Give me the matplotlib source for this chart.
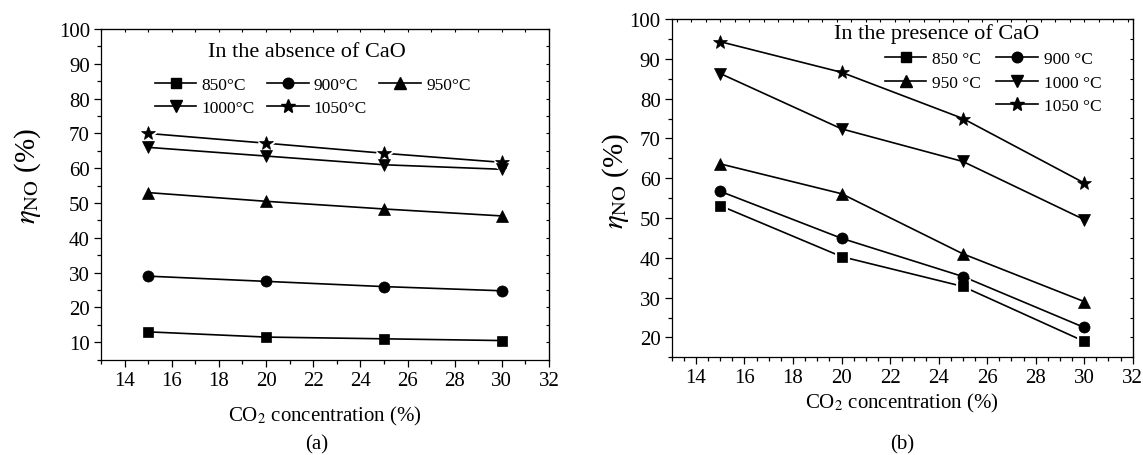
import matplotlib
matplotlib.use("Agg")
import matplotlib.pyplot as plt
from matplotlib.ticker import MultipleLocator
from matplotlib.lines import Line2D

# ---------------- data ----------------
co2 = [15, 20, 25, 30]
temps = ["850", "900", "950", "1000", "1050"]

# (a) in the absence of CaO
absent_850 = [13.0, 11.5, 11.0, 10.5]
absent_900 = [29.0, 27.5, 26.0, 24.8]
absent_950 = [53.0, 50.5, 48.3, 46.3]
absent_1000 = [66.0, 63.5, 61.0, 59.7]
absent_1050 = [70.0, 67.2, 64.3, 61.7]

# (b) in the presence of CaO
present_850 = [53.1, 40.3, 32.8, 19.0]
present_900 = [56.7, 44.9, 35.3, 22.5]
present_950 = [63.6, 56.1, 41.0, 29.0]
present_1000 = [86.3, 72.4, 64.2, 49.6]
present_1050 = [94.3, 86.6, 75.0, 58.8]

x_ticks = [14, 16, 18, 20, 22, 24, 26, 28, 30, 32]

# ---------------- style ----------------
plt.rcParams["font.family"] = ["Liberation Serif", "DejaVu Serif"]
plt.rcParams["mathtext.fontset"] = "stix"

markers = ["s", "o", "^", "v", "*"]
msizes = [7.5, 8, 8.5, 8.5, 10.5]

W, H = 1143, 456
fig = plt.figure(figsize=(W / 100, H / 100), dpi=100)

def px_rect(x0, x1, ytop, ybot):
    return [x0 / W, 1 - ybot / H, (x1 - x0) / W, (ybot - ytop) / H]

axA = fig.add_axes(px_rect(101, 549, 30, 360.7))
axB = fig.add_axes(px_rect(671.7, 1132.7, 20, 358.3))

def style_axes(ax, ylim, yticks, xminor, topminor):
    ax.set_xlim(13, 32)
    ax.set_ylim(*ylim)
    ax.set_xticks(x_ticks)
    ax.set_yticks(yticks)
    ax.xaxis.set_minor_locator(MultipleLocator(xminor))
    ax.yaxis.set_minor_locator(MultipleLocator(5))
    ax.tick_params(axis="both", which="major", direction="out", length=5,
                   width=0.9, labelsize=15, pad=3)
    ax.tick_params(axis="both", which="minor", direction="out", length=3,
                   width=0.9)
    for s in ax.spines.values():
        s.set_linewidth(0.9)
    # top / right inward ticks
    top = ax.secondary_xaxis("top")
    top.xaxis.set_major_locator(MultipleLocator(topminor))
    top.tick_params(direction="in", length=2.5, width=0.8, labeltop=False)
    right = ax.secondary_yaxis("right")
    right.yaxis.set_major_locator(MultipleLocator(5))
    right.tick_params(direction="in", length=2.5, width=0.8, labelright=False)

style_axes(axA, (5, 100), list(range(10, 101, 10)), 1, 1)
style_axes(axB, (15, 100), list(range(20, 101, 10)), 0.5, 0.6)

def draw(ax, series, gap_idx, label_fmt):
    handles = []
    for i, (vals, t) in enumerate(zip(series, temps)):
        ax.plot(co2, vals, color="black", lw=1.2, zorder=2)
        if i in gap_idx:
            ax.plot(co2, vals, linestyle="none", marker=markers[i],
                    ms=msizes[i], mfc="white", mec="white", mew=3.5, zorder=2.5)
        ax.plot(co2, vals, linestyle="none", marker=markers[i],
                ms=msizes[i], mfc="black", mec="black", mew=0.5, zorder=4)
        handles.append(Line2D([], [], color="black", lw=1.2, marker=markers[i],
                              ms=msizes[i] * 0.95, mfc="black", mec="black",
                              label=label_fmt.format(t)))
    return handles

hA = draw(axA, [absent_850, absent_900, absent_950, absent_1000, absent_1050],
          {4}, "{}\u00b0C")
hB = draw(axB, [present_850, present_900, present_950, present_1000, present_1050],
          {0}, "{} \u00b0C")

# legends (ordering to reproduce the row layout of the original)
orderA = [hA[0], hA[3], hA[1], hA[4], hA[2]]
legA = axA.legend(handles=orderA, ncol=3, loc="upper left",
                  bbox_to_anchor=(0.12, 0.855), frameon=False, fontsize=12.5,
                  handlelength=2.4, handletextpad=0.3, columnspacing=0.7,
                  labelspacing=0.38, borderpad=0, borderaxespad=0)
blank = Line2D([], [], linestyle="none", label=" ")
orderB = [hB[0], hB[2], blank, hB[1], hB[3], hB[4]]
legB = axB.legend(handles=orderB, ncol=2, loc="upper left",
                  bbox_to_anchor=(0.462, 0.905), frameon=False, fontsize=12.5,
                  handlelength=2.4, handletextpad=0.35, columnspacing=0.85,
                  labelspacing=0.42, borderpad=0, borderaxespad=0)

axA.text(0.46, 0.932, "In the absence of CaO", transform=axA.transAxes,
         ha="center", va="center", fontsize=16)
axB.text(0.353, 0.958, "In the presence of CaO", transform=axB.transAxes,
         ha="left", va="center", fontsize=16)

# axis labels
ylabel = r"$\eta_{\mathrm{NO}}$ (%)"
axA.set_ylabel(ylabel, fontsize=21, va="center")
axA.yaxis.set_label_coords(-0.163, 0.56)
axB.set_ylabel(ylabel, fontsize=21, va="center")
axB.yaxis.set_label_coords(-0.122, 0.524)

xlabel = r"CO$_2$ concentration (%)"
axA.set_xlabel(xlabel, fontsize=15, va="center")
axA.xaxis.set_label_coords(0.5, (360.7 - 416) / 330.7)
axB.set_xlabel(xlabel, fontsize=15, va="center")
axB.xaxis.set_label_coords(0.5, (358.3 - 403) / 338.3)

fig.text(317 / W, 1 - 445 / H, "(a)", ha="center", va="center", fontsize=15)
fig.text(902 / W, 1 - 445 / H, "(b)", ha="center", va="center", fontsize=15)

fig.savefig("out.png", dpi=100, facecolor="white")
